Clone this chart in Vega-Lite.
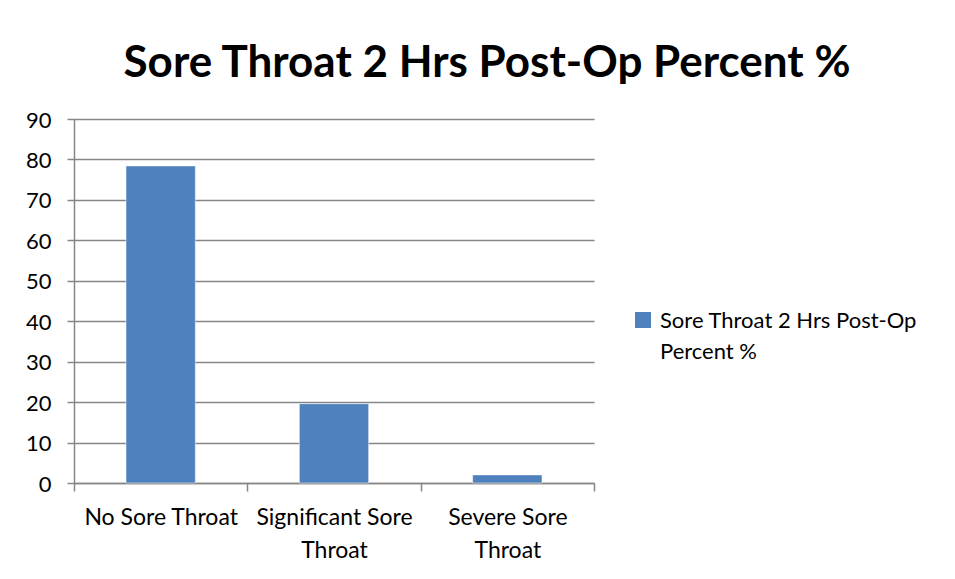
{
  "$schema": "https://vega.github.io/schema/vega-lite/v6.json",
  "width": 520,
  "height": 364,
  "autosize": {"type": "none"},
  "padding": {"left": 74, "top": 119, "right": 361, "bottom": 96},
  "background": "white",
  "config": {
    "font": "Lato",
    "view": {"stroke": null},
    "style": {"guide-label": {"lineHeight": 31, "dy": 8}}
  },
  "title": {
    "text": "Sore Throat 2 Hrs Post-Op Percent %",
    "font": "Lato",
    "fontSize": 44,
    "fontWeight": "bold",
    "color": "#000000",
    "anchor": "middle",
    "frame": "group",
    "baseline": "alphabetic",
    "dx": 153,
    "offset": -12
  },
  "data": {
    "values": [
      {"category": "No Sore Throat", "series": "Sore Throat 2 Hrs Post-Op Percent %", "value": 78.4},
      {"category": "Significant Sore Throat", "series": "Sore Throat 2 Hrs Post-Op Percent %", "value": 19.6},
      {"category": "Severe Sore Throat", "series": "Sore Throat 2 Hrs Post-Op Percent %", "value": 2.0}
    ]
  },
  "mark": {"type": "bar", "stroke": "#ffffff", "strokeWidth": 0.5, "width": {"band": 0.4}},
  "encoding": {
    "x": {
      "field": "category",
      "type": "nominal",
      "sort": null,
      "scale": {"paddingInner": 0, "paddingOuter": 0},
      "axis": {
        "title": null,
        "labelAngle": 0,
        "labelFont": "Lato",
        "labelFontSize": 23,
        "labelColor": "#000000",
        "labelLineHeight": 33,
        "labelPadding": 7,
        "tickBand": "extent",
        "tickSize": 8,
        "tickColor": "#868686",
        "domainColor": "#868686",
        "domainWidth": 1.5,
        "tickWidth": 1.5,
        "grid": false,
        "labelExpr": "datum.value == null ? '' : datum.value == 'No Sore Throat' ? datum.value : [replace(datum.value, ' Throat', ''), 'Throat']"
      }
    },
    "y": {
      "field": "value",
      "type": "quantitative",
      "scale": {"domain": [0, 90]},
      "axis": {
        "title": null,
        "values": [0, 10, 20, 30, 40, 50, 60, 70, 80, 90],
        "labelFont": "Lato",
        "labelFontSize": 22,
        "labelColor": "#000000",
        "labelBaseline": "alphabetic",
        "labelPadding": 16,
        "tickSize": 7,
        "tickColor": "#868686",
        "domainColor": "#868686",
        "domainWidth": 1.5,
        "tickWidth": 1.5,
        "grid": true,
        "gridColor": "#868686",
        "gridWidth": 1.5
      }
    },
    "color": {
      "field": "series",
      "type": "nominal",
      "scale": {"range": ["#4F81BD"]},
      "legend": {
        "title": null,
        "orient": "none",
        "legendX": 558,
        "legendY": 190,
        "padding": 0,
        "symbolType": "square",
        "symbolSize": 256,
        "symbolStrokeWidth": 0,
        "labelFont": "Lato",
        "labelFontSize": 22,
        "labelColor": "#000000",
        "labelOffset": 6,
        "labelLimit": 400,
        "labelBaseline": "alphabetic",
        "labelExpr": "['Sore Throat 2 Hrs Post-Op', 'Percent %']"
      }
    }
  }
}
